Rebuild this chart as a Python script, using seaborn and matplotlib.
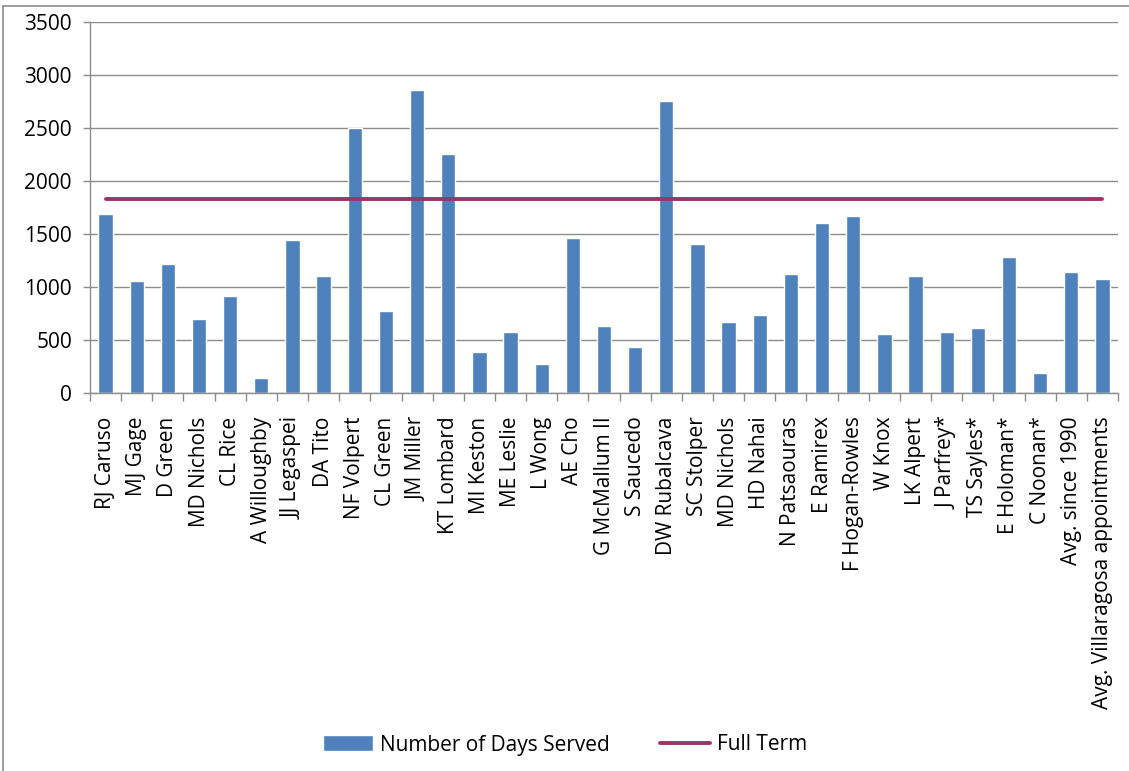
import numpy as np
import pandas as pd
import matplotlib
matplotlib.use("Agg")
import matplotlib.pyplot as plt
from matplotlib.lines import Line2D
import seaborn as sns

# Commissioners and the number of days each served
names = [
    "RJ Caruso", "MJ Gage", "D Green", "MD Nichols", "CL Rice", "A Willoughby",
    "JJ Legaspei", "DA Tito", "NF Volpert", "CL Green", "JM Miller", "KT Lombard",
    "MI Keston", "ME Leslie", "L Wong", "AE Cho", "G McMallum II", "S Saucedo",
    "DW Rubalcava", "SC Stolper", "MD Nichols", "HD Nahai", "N Patsaouras",
    "E Ramirex", "F Hogan-Rowles", "W Knox", "LK Alpert", "J Parfrey*",
    "TS Sayles*", "E Holoman*", "C Noonan*", "Avg. since 1990",
    "Avg. Villaragosa appointments",
]
days_served = [
    1692, 1060, 1220, 701, 918, 145, 1447, 1107, 2503, 777, 2862, 2258,
    390, 579, 277, 1466, 635, 437, 2758, 1409, 673, 739, 1126,
    1607, 1673, 560, 1107, 579, 616, 1286, 192, 1145, 1079,
]
full_term_days = 1826

y_ticks = [0, 500, 1000, 1500, 2000, 2500, 3000, 3500]

BAR_COLOR = "#4F81BD"
LINE_COLOR = "#9B3468"
GRID_COLOR = "#8C8C8C"
TEXT_COLOR = "#000000"

sns.set_theme(style="white")
plt.rcParams["font.family"] = ["Open Sans", "DejaVu Sans"]

n = len(names)
pos = np.arange(n)
df = pd.DataFrame({"pos": pos, "name": names, "days": days_served,
                   "full": [full_term_days] * n})

fig = plt.figure(figsize=(11.29, 7.71), dpi=100)
ax = fig.add_axes([90 / 1129, 1 - 393 / 771, (1118 - 90) / 1129, (393 - 22) / 771])

# bars keyed by position (names repeat, e.g. "MD Nichols")
sns.barplot(data=df, x="pos", y="days", color=BAR_COLOR, width=0.46,
            saturation=1, ax=ax, label="Number of Days Served")
sns.lineplot(data=df, x="pos", y="full", color=LINE_COLOR, linewidth=2.8,
             ax=ax, label="Full Term")

ax.set_xlim(-0.5, n - 0.5)
ax.set_ylim(0, 3500)
ax.set_yticks(y_ticks)
ax.set_yticklabels([str(v) for v in y_ticks], fontsize=15, color=TEXT_COLOR)
ax.set_xticks(pos)
ax.set_xticklabels(names, rotation=90, fontsize=15, color=TEXT_COLOR,
                   ha="center", va="top")
ax.set_xticks(np.arange(-0.5, n, 1.0), minor=True)
ax.tick_params(axis="x", which="major", length=0, pad=17)
ax.tick_params(axis="x", which="minor", length=6, width=1, color=GRID_COLOR,
               direction="out", bottom=True)
ax.tick_params(axis="y", which="major", length=5, width=1, color=GRID_COLOR,
               direction="out", left=True, pad=8)
ax.set_xlabel("")
ax.set_ylabel("")

ax.grid(axis="y", color=GRID_COLOR, linewidth=1)
ax.set_axisbelow(True)
for side in ("top", "right"):
    ax.spines[side].set_visible(False)
for side in ("left", "bottom"):
    ax.spines[side].set_color(GRID_COLOR)
    ax.spines[side].set_linewidth(1)

handles, labels = ax.get_legend_handles_labels()
order = [labels.index("Number of Days Served"), labels.index("Full Term")]
handles = [handles[i] for i in order]
labels = [labels[i] for i in order]
if ax.get_legend() is not None:
    ax.get_legend().remove()
fig.legend(handles, labels, loc="center", bbox_to_anchor=(565 / 1129, 1 - 745 / 771),
           ncol=2, frameon=False, fontsize=15, handlelength=2.4, handleheight=0.8,
           handletextpad=0.35, columnspacing=2.4, labelcolor=TEXT_COLOR)

# chart frame
fig.add_artist(Line2D([3 / 1129, 3 / 1129], [0, 1 - 6 / 771], color=GRID_COLOR,
                      linewidth=1.2, transform=fig.transFigure))
fig.add_artist(Line2D([3 / 1129, 1], [1 - 6 / 771, 1 - 6 / 771], color=GRID_COLOR,
                      linewidth=1.2, transform=fig.transFigure))

fig.savefig("out.png", dpi=100, facecolor="white")
